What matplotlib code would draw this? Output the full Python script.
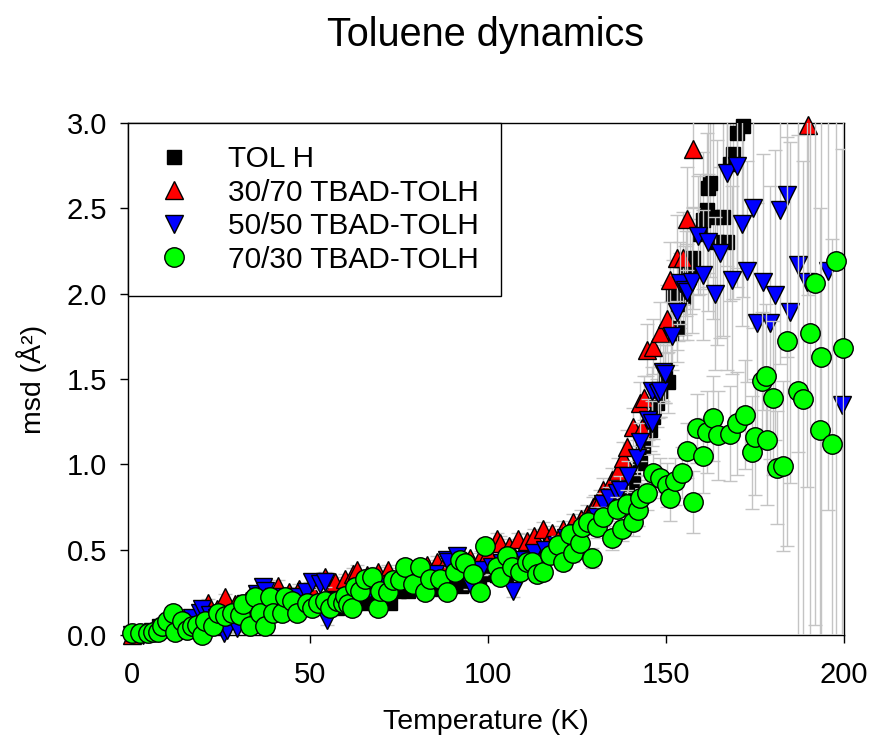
import matplotlib.pyplot as plt

plt.rcParams['font.family'] = ['Liberation Sans', 'DejaVu Sans']

# (temperature K, msd A^2, error)
tolh = [
    (0, 0.00, 0.02), (2.5, 0.01, 0.02), (5, 0.02, 0.02), (7.5, 0.05, 0.02), (10, 0.07, 0.02),
    (12.5, 0.06, 0.02), (15, 0.08, 0.02), (17.5, 0.07, 0.02), (20, 0.09, 0.02), (22.5, 0.10, 0.02),
    (25, 0.11, 0.02), (27.5, 0.12, 0.02), (30, 0.11, 0.02), (32.5, 0.14, 0.02), (35, 0.15, 0.03),
    (37.5, 0.14, 0.03), (40, 0.16, 0.03), (42.5, 0.16, 0.03), (45, 0.17, 0.03), (47.5, 0.15, 0.03),
    (50, 0.18, 0.03), (52.5, 0.17, 0.03), (55, 0.19, 0.03), (57.5, 0.16, 0.03), (60, 0.17, 0.03),
    (62.5, 0.22, 0.03), (65, 0.19, 0.03), (67.5, 0.21, 0.03), (70, 0.24, 0.03), (72.5, 0.19, 0.03),
    (75, 0.26, 0.03), (77.5, 0.26, 0.03), (80, 0.28, 0.03), (82.5, 0.27, 0.03), (85, 0.27, 0.03),
    (87.5, 0.30, 0.03), (90, 0.31, 0.03), (92.5, 0.29, 0.03), (95, 0.33, 0.03), (97.5, 0.30, 0.03),
    (100, 0.36, 0.03), (102.5, 0.35, 0.04), (105, 0.36, 0.04), (107.5, 0.40, 0.04), (110, 0.38, 0.04),
    (112.5, 0.44, 0.04), (115, 0.50, 0.04), (117.5, 0.55, 0.04), (120, 0.52, 0.04), (122.5, 0.56, 0.04),
    (125, 0.60, 0.04), (127.5, 0.64, 0.05), (129.2, 0.69, 0.05), (131.5, 0.73, 0.05), (134.3, 0.77, 0.06),
    (137, 0.83, 0.07), (139, 0.85, 0.08), (140.7, 0.91, 0.09), (142.7, 1.01, 0.10), (143.5, 1.10, 0.11),
    (145.5, 1.20, 0.12), (146.3, 1.28, 0.13), (147.5, 1.36, 0.14), (148.3, 1.43, 0.15), (149.7, 1.53, 0.17),
    (150.6, 1.48, 0.18), (151.3, 1.77, 0.19), (152, 2.00, 0.20), (153, 1.80, 0.20), (153.4, 1.94, 0.22),
    (153.9, 2.02, 0.22), (154.8, 1.98, 0.25), (155.5, 2.12, 0.25), (156.7, 2.16, 0.28), (157.6, 2.21, 0.30),
    (159.6, 2.35, 0.35), (160.4, 2.43, 0.40), (161.5, 2.49, 0.45), (161.8, 2.62, 0.50), (162.4, 2.65, 0.55),
    (163.2, 2.45, 0.60), (164.3, 2.30, 0.60), (166, 2.45, 0.70), (167.1, 2.30, 0.75), (168, 2.76, 0.80),
    (168.8, 2.82, 0.85), (170, 2.94, 0.90), (171.6, 2.98, 1.00),
]

tbad_30_70 = [
    (0, 0.00, 0.02), (3, 0.01, 0.02), (6, 0.03, 0.02), (9, 0.05, 0.02), (12, 0.08, 0.02),
    (15, 0.10, 0.02), (18, 0.12, 0.02), (21.3, 0.19, 0.02), (24, 0.15, 0.02), (26.1, 0.22, 0.02),
    (29, 0.18, 0.02), (32, 0.20, 0.02), (35, 0.22, 0.03), (38, 0.24, 0.03), (41, 0.29, 0.03),
    (44, 0.25, 0.03), (47, 0.27, 0.03), (50, 0.28, 0.03), (54.2, 0.34, 0.03), (57, 0.31, 0.03),
    (59.8, 0.33, 0.03), (62, 0.36, 0.03), (63.2, 0.38, 0.03), (66, 0.35, 0.03), (69, 0.37, 0.03),
    (71.9, 0.38, 0.03), (75, 0.36, 0.03), (78, 0.39, 0.03), (81, 0.40, 0.03), (83, 0.41, 0.03),
    (85.7, 0.43, 0.03), (88, 0.42, 0.03), (91, 0.44, 0.03), (95, 0.45, 0.03), (98, 0.46, 0.03),
    (100, 0.48, 0.04), (102.5, 0.56, 0.04), (103.4, 0.54, 0.04), (106, 0.52, 0.04), (108.4, 0.56, 0.04),
    (111, 0.55, 0.04), (113, 0.58, 0.04), (115.4, 0.62, 0.04), (118, 0.60, 0.04), (121, 0.62, 0.05),
    (124, 0.66, 0.05), (126, 0.68, 0.05), (127.8, 0.71, 0.05), (129.5, 0.75, 0.06), (130, 0.76, 0.06),
    (131.5, 0.79, 0.06), (132.3, 0.85, 0.07), (134.8, 0.91, 0.07), (136.5, 0.96, 0.08), (138, 1.04, 0.09),
    (139, 1.10, 0.10), (140.7, 1.22, 0.11), (142.7, 1.36, 0.12), (143.2, 1.21, 0.12), (143.8, 1.39, 0.13),
    (144.7, 1.67, 0.15), (146.3, 1.69, 0.16), (148.3, 1.77, 0.18), (150.3, 1.85, 0.20), (151.1, 2.08, 0.22),
    (153, 2.21, 0.25), (154.8, 2.21, 0.27), (155.9, 2.44, 0.30), (157.6, 2.85, 0.35), (190, 2.99, 1.00),
]

tbad_50_50 = [
    (0, 0.00, 0.02), (3, 0.00, 0.02), (6, 0.02, 0.02), (9, 0.04, 0.02), (12, 0.06, 0.02),
    (15, 0.08, 0.02), (17, 0.10, 0.02), (19, 0.13, 0.02), (19.7, 0.15, 0.02), (22, 0.12, 0.02),
    (24, 0.10, 0.02), (26, 0.01, 0.02), (26.7, 0.03, 0.02), (29.5, 0.04, 0.02), (32, 0.18, 0.02),
    (35, 0.24, 0.03), (36.8, 0.28, 0.03), (37.4, 0.26, 0.03), (40, 0.22, 0.03), (43, 0.20, 0.03),
    (46, 0.22, 0.03), (49, 0.25, 0.03), (50.6, 0.31, 0.03), (52.8, 0.30, 0.03), (54.2, 0.31, 0.03),
    (54.8, 0.09, 0.03), (58, 0.20, 0.03), (61, 0.22, 0.03), (64, 0.25, 0.03), (67, 0.27, 0.03),
    (70, 0.28, 0.03), (73, 0.30, 0.03), (76, 0.31, 0.03), (79, 0.33, 0.03), (82, 0.34, 0.03),
    (85, 0.36, 0.03), (88.5, 0.44, 0.03), (88.8, 0.43, 0.03), (91.3, 0.46, 0.03), (95, 0.30, 0.03),
    (98, 0.38, 0.03), (101, 0.40, 0.04), (104, 0.42, 0.04), (107, 0.26, 0.04), (110, 0.44, 0.04),
    (113, 0.48, 0.04), (116, 0.50, 0.04), (119, 0.53, 0.04), (122, 0.57, 0.05), (125, 0.60, 0.05),
    (128, 0.64, 0.05), (130.6, 0.69, 0.06), (132.3, 0.77, 0.06), (134, 0.80, 0.07), (136.2, 0.83, 0.07),
    (137, 0.85, 0.08), (139.3, 0.93, 0.09), (141.9, 1.04, 0.10), (142.7, 1.13, 0.11), (145, 1.26, 0.12),
    (146, 1.24, 0.13), (146.2, 1.43, 0.14), (147.8, 1.42, 0.15), (148.3, 1.43, 0.15), (149.2, 1.54, 0.17),
    (149.7, 1.53, 0.17), (151.7, 1.75, 0.20), (153, 1.89, 0.22), (154, 2.06, 0.24), (155.3, 2.02, 0.26),
    (155.9, 2.01, 0.28), (157.3, 2.07, 0.30), (159, 2.34, 0.35), (160.4, 2.11, 0.38), (161.8, 2.30, 0.40),
    (163.8, 2.00, 0.45), (165.2, 2.24, 0.50), (167.1, 2.71, 0.55), (168.5, 2.08, 0.55), (170, 2.75, 0.60),
    (171.3, 2.41, 0.60), (172.8, 2.13, 0.65), (174.4, 2.50, 0.70), (175.6, 1.83, 0.70), (177.2, 2.07, 0.75),
    (179.2, 1.83, 0.80), (180.6, 1.99, 0.85), (182, 2.49, 0.90), (184, 2.58, 0.95), (184.8, 1.89, 1.00),
    (187, 2.17, 1.10), (189.6, 2.07, 1.20), (195.5, 2.13, 1.40), (199.4, 1.35, 1.50),
]

tbad_70_30 = [
    (0, 0.01, 0.02), (2.2, 0.01, 0.02), (4.5, 0.01, 0.02), (5.9, 0.02, 0.02), (7.3, 0.02, 0.02),
    (8.4, 0.05, 0.02), (9.8, 0.08, 0.02), (11.5, 0.13, 0.02), (12.1, 0.02, 0.02), (14, 0.08, 0.02),
    (15.4, 0.03, 0.02), (16.9, 0.05, 0.02), (18.3, 0.06, 0.02), (19.7, 0.00, 0.02), (20.5, 0.08, 0.02),
    (22.8, 0.05, 0.02), (24.2, 0.13, 0.02), (26.1, 0.11, 0.02), (28.1, 0.13, 0.02), (30.3, 0.12, 0.02),
    (31.2, 0.18, 0.02), (33.1, 0.05, 0.02), (34.6, 0.22, 0.02), (36, 0.13, 0.02), (37.4, 0.05, 0.02),
    (38.8, 0.22, 0.03), (39.6, 0.13, 0.03), (42.1, 0.13, 0.03), (43, 0.22, 0.03), (44.9, 0.20, 0.03),
    (46.3, 0.13, 0.03), (49.2, 0.19, 0.03), (50.6, 0.16, 0.03), (52.2, 0.19, 0.03), (54.2, 0.20, 0.03),
    (55.6, 0.16, 0.03), (57.6, 0.20, 0.03), (59.3, 0.19, 0.03), (59.8, 0.23, 0.03), (60.7, 0.18, 0.03),
    (61.8, 0.16, 0.03), (62.6, 0.28, 0.03), (64, 0.26, 0.03), (65.4, 0.33, 0.03), (67.4, 0.34, 0.03),
    (69, 0.16, 0.03), (69.7, 0.26, 0.03), (71.9, 0.25, 0.03), (73.3, 0.32, 0.03), (75.3, 0.32, 0.03),
    (76.7, 0.40, 0.03), (78.9, 0.30, 0.03), (80.9, 0.40, 0.03), (82.3, 0.25, 0.03), (83.7, 0.33, 0.03),
    (86.5, 0.33, 0.03), (88.5, 0.25, 0.03), (90.7, 0.37, 0.03), (92.1, 0.44, 0.03), (93.5, 0.42, 0.03),
    (95.8, 0.36, 0.03), (97.8, 0.25, 0.03), (99.2, 0.52, 0.04), (102.5, 0.40, 0.04), (103.4, 0.34, 0.04),
    (105.3, 0.46, 0.04), (106.7, 0.40, 0.04), (109, 0.37, 0.04), (111, 0.43, 0.04), (112.4, 0.43, 0.04),
    (113.8, 0.36, 0.04), (115.4, 0.37, 0.04), (117.4, 0.47, 0.04), (119.7, 0.53, 0.05), (121, 0.43, 0.05),
    (123, 0.59, 0.05), (123.9, 0.48, 0.05), (125.8, 0.54, 0.05), (126.4, 0.63, 0.05), (128, 0.66, 0.05),
    (129.2, 0.45, 0.06), (130.6, 0.63, 0.06), (132.3, 0.69, 0.06), (134.8, 0.57, 0.07), (136.2, 0.74, 0.07),
    (137.6, 0.62, 0.07), (139, 0.77, 0.08), (140.7, 0.66, 0.08), (142, 0.73, 0.09), (142.7, 0.80, 0.09),
    (144.7, 0.83, 0.10), (146.3, 0.95, 0.11), (148.3, 0.92, 0.12), (150.3, 0.88, 0.13), (151, 0.80, 0.13),
    (152.5, 0.90, 0.14), (154.5, 0.95, 0.15), (155.9, 1.08, 0.16), (157.6, 0.78, 0.18), (158.7, 1.21, 0.20),
    (160.4, 1.05, 0.22), (161.5, 1.19, 0.24), (163.2, 1.27, 0.25), (164.6, 1.17, 0.26), (168, 1.18, 0.28),
    (170, 1.24, 0.30), (172.2, 1.29, 0.32), (174.2, 1.07, 0.33), (175, 1.16, 0.34), (177, 1.49, 0.40),
    (178, 1.52, 0.42), (178.4, 1.14, 0.38), (180, 1.39, 0.45), (181.2, 0.98, 0.33), (182.9, 0.99, 0.50),
    (184, 1.72, 1.20), (187, 1.43, 1.50), (188.5, 1.38, 1.40), (190.4, 1.77, 1.80), (191.9, 2.06, 2.00),
    (193.3, 1.20, 1.30), (193.5, 1.63, 1.70), (196.6, 1.12, 1.20), (197.8, 2.19, 2.20), (199.7, 1.68, 1.70),
]

series = [
    ('TOL H', tolh, 's', 'black', 10.5),
    ('30/70 TBAD-TOLH', tbad_30_70, '^', 'red', 12.5),
    ('50/50 TBAD-TOLH', tbad_50_50, 'v', 'blue', 12.5),
    ('70/30 TBAD-TOLH', tbad_70_30, 'o', '#00ff00', 14),
]

fig = plt.figure(figsize=(8.72, 7.46), dpi=100)
ax = fig.add_axes([0.1468, 0.1488, 0.8211, 0.6863])

z = 2
for label, rows, marker, color, size in series:
    t, msd, err = zip(*rows)
    ax.errorbar(t, msd, yerr=err, fmt='none', ecolor='#c4c4c4', elinewidth=1,
                capsize=5, capthick=1, zorder=z)
    ax.plot(t, msd, linestyle='none', marker=marker, markersize=size,
            markerfacecolor=color, markeredgecolor='black', markeredgewidth=1,
            label=label, zorder=z + 1, clip_on=False)
    z += 2

ax.set_xlim(-1.1, 200)
ax.set_ylim(0, 3)
ax.set_xticks([0, 50, 100, 150, 200])
ax.set_yticks([0.0, 0.5, 1.0, 1.5, 2.0, 2.5, 3.0])
ax.set_yticklabels(['0.0', '0.5', '1.0', '1.5', '2.0', '2.5', '3.0'])
ax.tick_params(axis='x', direction='out', length=6, width=1, labelsize=21, pad=13)
ax.tick_params(axis='y', direction='out', length=6, width=1, labelsize=21, pad=9)
for s in ax.spines.values():
    s.set_linewidth(1)

ax.set_xlabel('Temperature (K)', fontsize=20.5, labelpad=14)
ax.set_ylabel('msd (Å²)', fontsize=20.5, labelpad=14)
fig.text(0.557, 0.953, 'Toluene dynamics', fontsize=28.5, ha='center', va='center')

leg = ax.legend(loc='upper left', borderaxespad=0, fontsize=21.5, frameon=True,
                fancybox=False, edgecolor='black', framealpha=1, labelspacing=0.18,
                handletextpad=1.0, borderpad=0.75, handlelength=1.6)
leg.get_frame().set_linewidth(1)
leg.set_zorder(20)

fig.savefig('out.png', dpi=100)
